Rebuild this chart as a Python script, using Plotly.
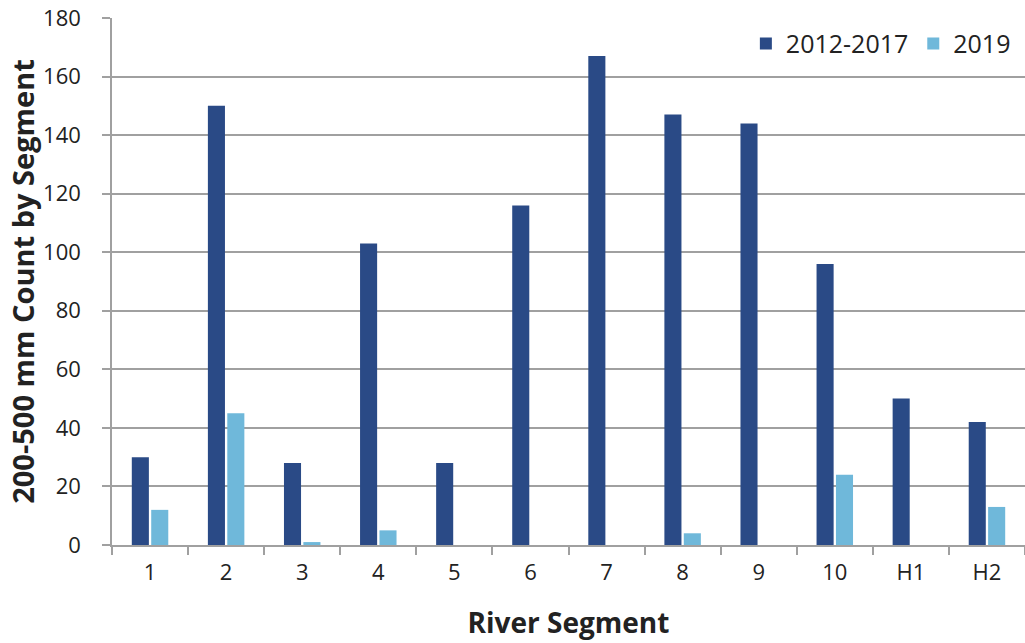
import plotly.graph_objects as go

segments = ["1", "2", "3", "4", "5", "6", "7", "8", "9", "10", "H1", "H2"]
count_2012_2017 = [30, 150, 28, 103, 28, 116, 167, 147, 144, 96, 50, 42]
count_2019 = [12, 45, 1, 5, 0, 0, 0, 4, 0, 24, 0, 13]

DARK = "#2a4a86"
LIGHT = "#6fb8da"
GRID = "#a0a0a0"
FONT = "Open Sans"

fig = go.Figure()
fig.add_trace(go.Bar(name="2012-2017", x=segments, y=count_2012_2017,
                     marker=dict(color=DARK, line=dict(width=0))))
fig.add_trace(go.Bar(name="2019", x=segments, y=count_2019,
                     marker=dict(color=LIGHT, line=dict(width=0))))

fig.update_layout(
    width=1025, height=643,
    margin=dict(l=112, r=0, t=18, b=98),
    paper_bgcolor="white", plot_bgcolor="white",
    barmode="group", bargap=0.49, bargroupgap=0.12,
    font=dict(family=FONT, color="#222222", size=22),
    legend=dict(orientation="h", x=0.99, xanchor="right", y=0.995, yanchor="top",
                font=dict(size=25, color="#222222"), bgcolor="rgba(0,0,0,0)",
                itemwidth=30, traceorder="normal"),
    xaxis=dict(
        title=dict(text="<b>River Segment</b>", font=dict(size=28, family=FONT), standoff=28),
        showline=True, linecolor=GRID, linewidth=1.5,
        ticks="outside", ticklen=8, tickcolor=GRID, tickwidth=1.5,
        tickson="boundaries", showgrid=False,
        tickfont=dict(size=22), ticklabelstandoff=7,
    ),
    yaxis=dict(
        title=dict(text="<b>200-500 mm Count by Segment</b>", font=dict(size=29, family=FONT), standoff=0),
        range=[0, 180], dtick=20,
        showline=True, linecolor=GRID, linewidth=1.5,
        ticks="outside", ticklen=8, tickcolor=GRID, tickwidth=1.5,
        showgrid=True, gridcolor=GRID, gridwidth=1.5,
        zeroline=False, tickfont=dict(size=22), ticklabelstandoff=17,
    ),
)

fig.write_html("out.html")
